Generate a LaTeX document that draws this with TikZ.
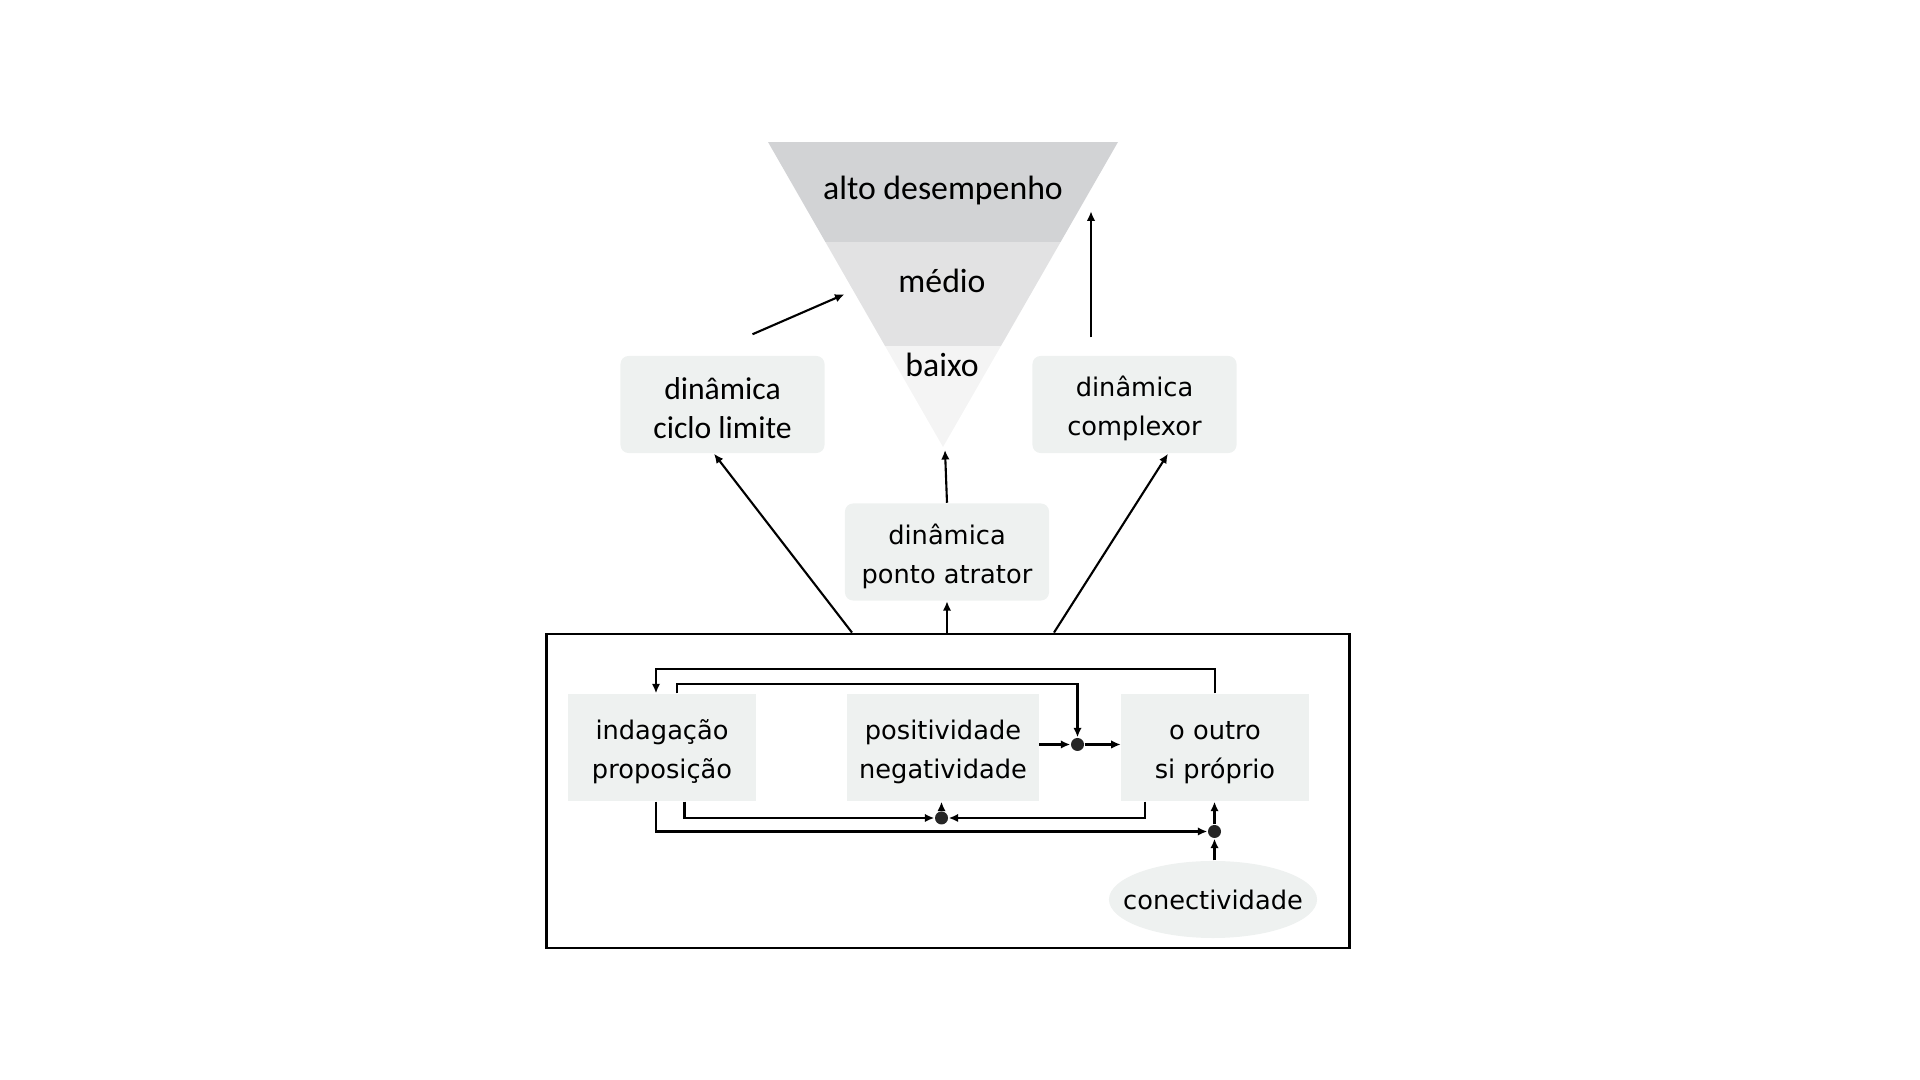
\documentclass[tikz,border=0pt]{standalone}
\usepackage{fontspec}
\setmainfont{DejaVu Sans}
\newfontfamily\calibri{Carlito}
\usetikzlibrary{arrows.meta, positioning, calc, shapes.geometric}
\definecolor{boxgray}{HTML}{EEF1F0}
\definecolor{bandA}{HTML}{D2D3D5}
\definecolor{bandB}{HTML}{E2E2E3}
\definecolor{bandC}{HTML}{F4F4F4}
\newcommand{\topgap}{\rule{0pt}{8.2pt}}

\begin{document}
\begin{tikzpicture}[x=0.01cm, y=-0.01cm,
    dyn/.style={fill=boxgray, rounded corners=2.3pt, minimum width=2.04cm, minimum height=0.97cm, align=center, font=\fontsize{7.3}{11.1}\selectfont},
    part/.style={fill=boxgray, minimum width=1.87cm, minimum height=1.07cm, align=center, font=\fontsize{7.3}{11.1}\selectfont},
    dot/.style={circle, fill=black!85, inner sep=0pt, minimum size=0.13cm},
    conn/.style={line width=0.6pt, -{Latex[length=0.95mm,width=0.85mm]}},
    band/.style={font=\calibri\fontsize{9.6}{11}\selectfont},
]
    \useasboundingbox (0,0) rectangle (1920,1080);

    \coordinate (tl) at (768,142);
    \coordinate (tr) at (1118,142);
    \coordinate (apex) at (943,447);
    \begin{scope}
        \clip (tl) -- (tr) -- (apex) -- cycle;
        \fill[bandA] (700,142) rectangle (1200,242.5);
        \fill[bandB] (700,242.5) rectangle (1200,346.5);
        \fill[bandC] (700,346.5) rectangle (1200,447);
    \end{scope}
    \node[band] (alto) at (943,191) {alto desempenho};
    \node[band] (medio) at (942,281) {médio};
    \node[band] (baixo) at (942,365) {baixo};

    \node[dyn, font=\calibri\fontsize{9}{11.1}\selectfont] (ciclo) at (722.5,404.5) {\topgap dinâmica\\ciclo limite};
    \node[dyn] (complexor) at (1134.5,404.5) {\topgap dinâmica\\complexor};
    \node[dyn] (atrator) at (947,552) {\topgap dinâmica\\ponto atrator};

    \node[draw, line width=0.75pt, minimum width=8.02cm, minimum height=3.14cm, inner sep=0pt] (sistema) at (948,791) {};

    \node[part] (indag) at (662,747.5) {\topgap indagação\\proposição};
    \node[part] (posit) at (943,747.5) {\topgap positividade\\negatividade};
    \node[part] (outro) at (1215,747.5) {\topgap o outro\\si próprio};
    \node[ellipse, fill=boxgray, inner sep=0pt, minimum width=2.08cm, minimum height=0.77cm, font=\fontsize{7.3}{11.1}\selectfont] (conect) at (1213,899.5) {\makebox[0pt]{conectividade}};

    \node[dot] (d1) at (1077.5,744.5) {};
    \node[dot] (d2) at (941.5,818) {};
    \node[dot] (d3) at (1214.5,831.5) {};

    \draw[conn] (outro.north) -- ++(0,-24) -| ($(indag.north)+(-6,0)$);
    \draw[conn] ($(indag.north)+(15,0)$) -- ++(0,-9.5) -| (d1.north);
    \draw[conn] (posit.east |- d1) -- (d1.west);
    \draw[conn] (d1.east) -- (outro.west |- d1);
    \draw[conn] ($(indag.south)+(22.5,0)$) |- (d2.west);
    \draw[conn] ($(outro.south)+(-70,0)$) |- (d2.east);
    \draw[conn] (d2.north) -- (d2 |- posit.south);
    \draw[conn] ($(indag.south)+(-6,0)$) |- (d3.west);
    \draw[conn] (d3 |- conect.north) -- (d3.south);
    \draw[conn] (d3.north) -- (d3 |- outro.south);

    \draw[conn] ($(sistema.north)+(-96,0)$) -- ($(ciclo.south)+(-8.5,0)$);
    \draw[conn] (sistema.north -| atrator.south) -- (atrator.south);
    \draw[conn] ($(sistema.north)+(106,0)$) -- ($(complexor.south)+(33.5,0)$);
    \draw[conn] (atrator.north) -- ($(apex)+(2,3)$);
    \draw[conn] ($(ciclo.north)+(30,-21)$) -- ++(92,-40);
    \draw[conn] ($(complexor.north)+(-43.5,-18)$) -- ++(0,-126);
\end{tikzpicture}
\end{document}
